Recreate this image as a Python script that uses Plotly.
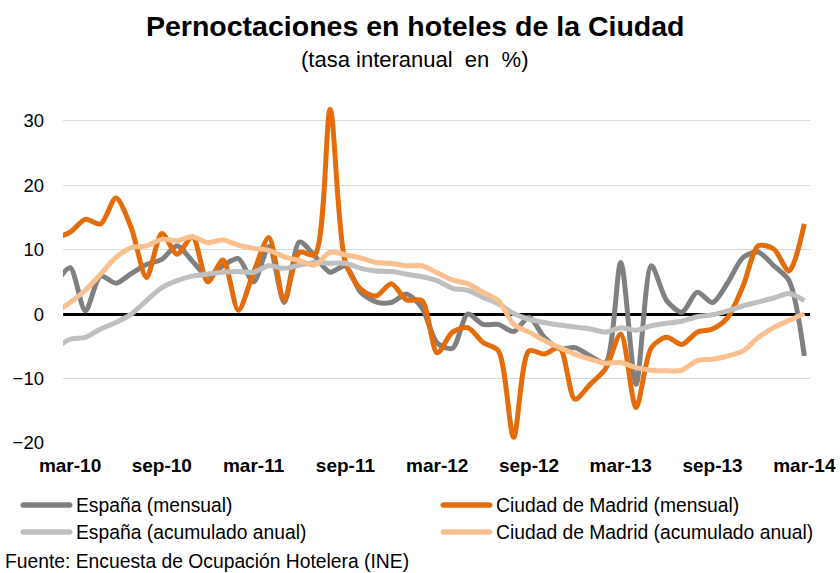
import plotly.graph_objects as go

# month labels feb-10 .. mar-14
mes = ["ene", "feb", "mar", "abr", "may", "jun", "jul", "ago", "sep", "oct", "nov", "dic"]
months = []
for yr in range(10, 15):
    for m in mes:
        months.append(f"{m}-{yr:02d}")
months = months[months.index("feb-10"):months.index("mar-14") + 1]

tick_labels = ["mar-10", "sep-10", "mar-11", "sep-11", "mar-12", "sep-12", "mar-13", "sep-13", "mar-14"]

espana_mensual = [4.5, 7.2, 0.5, 5.9, 4.8, 6.3, 7.7, 8.5, 10.6, 8.2, 5.9, 7.5, 8.6, 5.0, 10.5, 1.8,
                  11.2, 9.0, 6.5, 7.5, 3.4, 1.9, 1.8, 3.1, 1.0, -4.5, -5.3, 0.0, -1.6, -1.6, -2.7,
                  -0.5, -3.6, -5.4, -5.2, -6.5, -7.5, 8.0, -10.9, 7.5, 2.1, 0.3, 3.4, 1.8, 4.9, 8.8,
                  9.6, 7.5, 5.2, -6.5]
madrid_mensual = [11.8, 12.7, 14.7, 14.0, 18.0, 13.4, 5.7, 12.5, 9.3, 12.0, 5.0, 8.4, 0.6, 6.5, 11.9,
                  2.2, 9.6, 9.2, 31.8, 8.0, 3.9, 2.8, 4.7, 2.2, 2.1, -6.0, -2.8, -2.1, -4.4, -5.7,
                  -19.1, -5.7, -6.2, -5.2, -13.2, -10.9, -8.5, -3.1, -14.5, -5.2, -3.6, -4.7, -2.8,
                  -2.3, -0.5, 4.4, 10.6, 10.1, 6.7, 14.0]
espana_acumulado = [-5.4, -3.9, -3.6, -2.3, -1.3, 0.0, 2.1, 4.1, 5.2, 5.9, 6.2, 6.5, 6.6, 6.5, 7.5,
                    7.1, 7.6, 8.0, 7.9, 7.9, 7.1, 6.7, 6.6, 6.2, 5.8, 5.2, 4.0, 3.7, 2.6, 1.6, 0.1,
                    -0.8, -1.3, -1.7, -2.0, -2.3, -2.8, -2.1, -2.5, -1.8, -1.4, -1.1, -0.4, -0.1,
                    0.5, 1.3, 1.9, 2.5, 3.2, 2.1]
madrid_acumulado = [0.2, 1.8, 3.7, 6.2, 8.8, 10.3, 10.6, 11.6, 11.4, 12.0, 11.1, 11.5, 10.7, 10.2,
                    9.9, 8.9, 8.3, 7.6, 9.6, 9.2, 8.7, 8.0, 7.9, 7.5, 7.5, 6.4, 5.3, 4.7, 3.4, 2.1,
                    -1.6, -2.8, -4.1, -5.2, -6.2, -7.0, -7.6, -7.5, -8.3, -8.7, -8.8, -8.7, -7.2,
                    -7.0, -6.5, -5.7, -3.6, -2.1, -1.0, 0.1]

series_names = ["España (mensual)", "Ciudad de Madrid (mensual)",
                "España (acumulado anual)", "Ciudad de Madrid (acumulado anual)"]
series_values = [espana_mensual, madrid_mensual, espana_acumulado, madrid_acumulado]
series_colors = ["#808080", "#E46C0A", "#BFBFBF", "#FAC090"]

FONT = "Liberation Sans, Arial, Helvetica, sans-serif"
W, H = 840, 573
ML, MR, MT, MB = 63, 30, 95, 130
PW, PH = W - ML - MR, H - MT - MB


def px(x):
    return (x - ML) / PW


def py(y):
    return (H - MB - y) / PH


fig = go.Figure()
for name, vals, col in zip(series_names, series_values, series_colors):
    fig.add_trace(go.Scatter(
        x=months, y=vals, name=name, mode="lines", showlegend=False,
        line=dict(color=col, width=5, shape="spline", smoothing=0.8),
    ))

# legend (two columns) drawn as key lines + labels
legend_pos = [(21, 505), (441, 505), (21, 532), (441, 532)]
shapes = []
annotations = []
for (lx, ly), name, col in zip(legend_pos, series_names, series_colors):
    shapes.append(dict(type="line", xref="paper", yref="paper",
                       x0=px(lx + 2), x1=px(lx + 49), y0=py(ly), y1=py(ly),
                       line=dict(color=col, width=5.5), layer="above"))
    shapes.append(dict(type="circle", xref="paper", yref="paper",
                       x0=px(lx - 0.5), x1=px(lx + 4.5), y0=py(ly - 2.6), y1=py(ly + 2.6),
                       fillcolor=col, line=dict(width=0), layer="above"))
    shapes.append(dict(type="circle", xref="paper", yref="paper",
                       x0=px(lx + 46.5), x1=px(lx + 51.5), y0=py(ly - 2.6), y1=py(ly + 2.6),
                       fillcolor=col, line=dict(width=0), layer="above"))
    annotations.append(dict(text=name, xref="paper", yref="paper", x=px(lx + 53), y=py(ly),
                            xanchor="left", yanchor="middle", showarrow=False,
                            font=dict(family=FONT, size=19.3, color="black")))

annotations += [
    dict(text="<b>Pernoctaciones en hoteles de la Ciudad</b>", xref="paper", yref="paper",
         x=px(415), y=py(26), xanchor="center", yanchor="middle", showarrow=False,
         font=dict(family=FONT, size=28.5, color="black")),
    dict(text="(tasa interanual&nbsp; en&nbsp; %)", xref="paper", yref="paper",
         x=px(414), y=py(59), xanchor="center", yanchor="middle", showarrow=False,
         font=dict(family=FONT, size=22, color="black")),
    dict(text="Fuente: Encuesta de Ocupación Hotelera (INE)", xref="paper", yref="paper",
         x=px(3), y=py(561), xanchor="left", yanchor="middle", showarrow=False,
         font=dict(family=FONT, size=19.3, color="black")),
]

fig.update_layout(
    width=W, height=H,
    margin=dict(l=ML, r=MR, t=MT, b=MB, autoexpand=False),
    paper_bgcolor="white", plot_bgcolor="white",
    font=dict(family=FONT, color="black", size=18),
    showlegend=False,
    shapes=shapes,
    annotations=annotations,
)

fig.update_xaxes(
    type="category", range=[0.54, 49.37], automargin=False,
    tickmode="array", tickvals=tick_labels, ticktext=[f"<b>{t}</b>" for t in tick_labels],
    tickangle=0, showgrid=False, showline=False, zeroline=False, ticks="",
    ticklabelstandoff=9,
    tickfont=dict(family=FONT, size=19, color="black"),
)
fig.update_yaxes(
    range=[-20, 34], tickmode="array", tickvals=[-20, -10, 0, 10, 20, 30], automargin=False,
    showgrid=True, gridcolor="#D9D9D9", gridwidth=1.3,
    zeroline=True, zerolinecolor="black", zerolinewidth=2.5,
    showline=False, ticks="", ticklabelstandoff=18,
    tickfont=dict(family=FONT, size=18.5, color="black"),
)

fig.write_html("out.html", config={"displayModeBar": False},
               post_script="document.body.style.margin='0';")
